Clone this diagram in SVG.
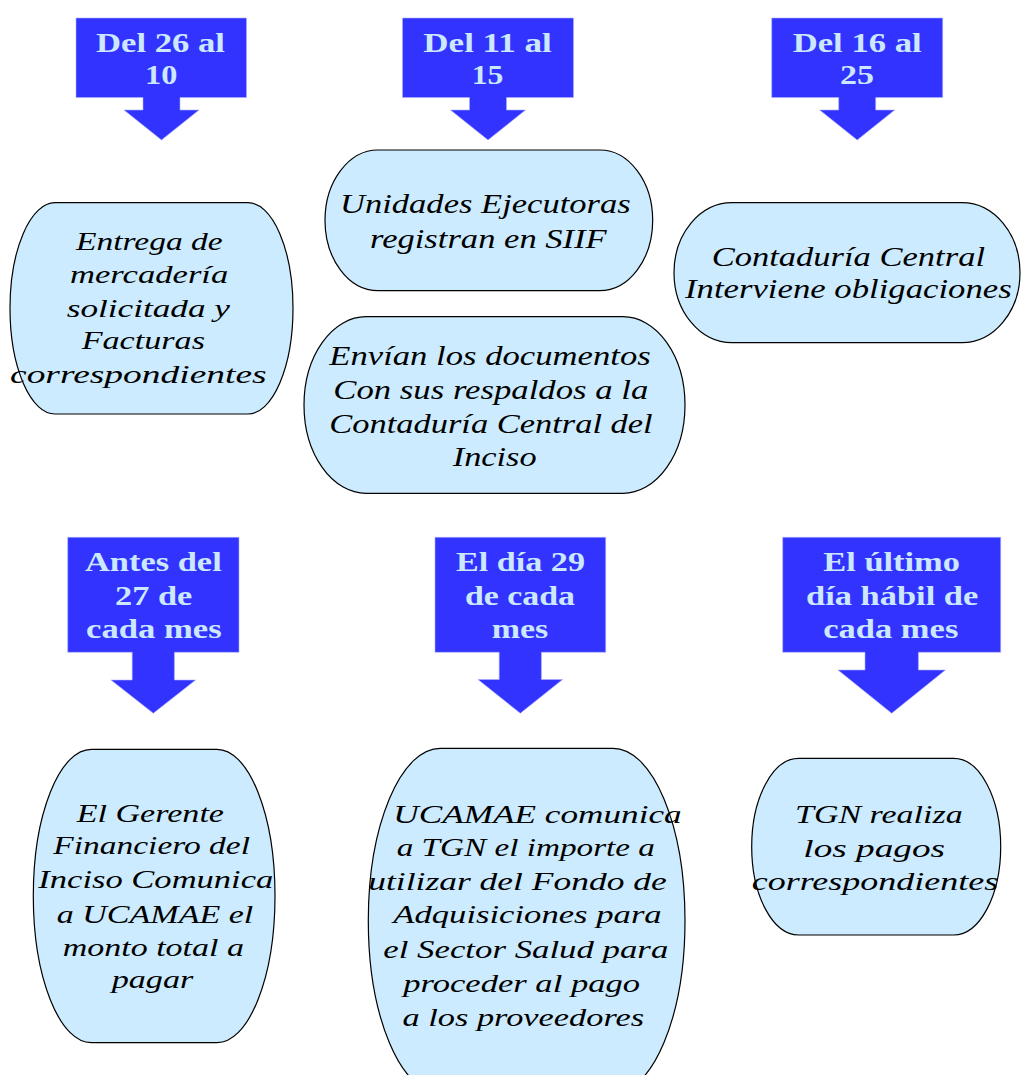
<svg xmlns="http://www.w3.org/2000/svg" width="1021" height="1075" viewBox="0 0 1021 1075">
<style>
.callout{fill:#3333ff;stroke:#aab0ff;stroke-width:0.6}
.ct{font-family:"Liberation Serif","Times New Roman",serif;font-weight:bold;font-size:27px;fill:#cce8ff}
.box{fill:#ccebff;stroke:#000;stroke-width:1.2}
.bt{font-family:"Liberation Serif","Times New Roman",serif;font-style:italic;font-size:26px;fill:#000}
.bt2{font-size:27.5px}
</style>
<rect width="1021" height="1075" fill="#fff"/>
<g id="connectors"/>
<g id="c1">
<path class="callout" d="M76,18 H246.5 V97.5 H180 V110 H199 L161.5,140 L124,110 H143 V97.5 H76 Z"/>
<text class="ct" x="96" y="51.7" textLength="129" lengthAdjust="spacingAndGlyphs">Del 26 al</text>
<text class="ct" x="145" y="84" textLength="32.3" lengthAdjust="spacingAndGlyphs">10</text>
</g>
<g id="c2">
<path class="callout" d="M402.5,18 H573.5 V97.5 H506.5 V110 H525.5 L488,140 L450.5,110 H469.5 V97.5 H402.5 Z"/>
<text class="ct" x="423.3" y="51.7" textLength="128.4" lengthAdjust="spacingAndGlyphs">Del 11 al</text>
<text class="ct" x="471.7" y="83.5" textLength="31.6" lengthAdjust="spacingAndGlyphs">15</text>
</g>
<g id="c3">
<path class="callout" d="M771.7,18 H942.7 V97.5 H875.7 V110 H894.7 L857.2,140 L819.7,110 H838.7 V97.5 H771.7 Z"/>
<text class="ct" x="792.7" y="51.7" textLength="129" lengthAdjust="spacingAndGlyphs">Del 16 al</text>
<text class="ct" x="840" y="84" textLength="34" lengthAdjust="spacingAndGlyphs">25</text>
</g>
<g id="c4">
<path class="callout" d="M67.7,537.3 H239 V652.3 H174.4 V680 H195.6 L153.3,713.3 L111,680 H132.2 V652.3 H67.7 Z"/>
<text class="ct" x="85" y="570.7" textLength="136.7" lengthAdjust="spacingAndGlyphs">Antes del</text>
<text class="ct" x="115" y="605" textLength="77.3" lengthAdjust="spacingAndGlyphs">27 de</text>
<text class="ct" x="86" y="638.3" textLength="135.7" lengthAdjust="spacingAndGlyphs">cada mes</text>
</g>
<g id="c5">
<path class="callout" d="M435,537.3 H605.7 V652.3 H541.4 V679.5 H562.6 L520.3,713.3 L478,679.5 H499.2 V652.3 H435 Z"/>
<text class="ct" x="456" y="570.7" textLength="129" lengthAdjust="spacingAndGlyphs">El día 29</text>
<text class="ct" x="465" y="605" textLength="110" lengthAdjust="spacingAndGlyphs">de cada</text>
<text class="ct" x="491.7" y="638.3" textLength="56.6" lengthAdjust="spacingAndGlyphs">mes</text>
</g>
<g id="c6">
<path class="callout" d="M782.7,537.3 H1000.7 V652.3 H918.4 V670 H945.4 L891.7,713.3 L838,670 H865 V652.3 H782.7 Z"/>
<text class="ct" x="823.3" y="570.7" textLength="136.7" lengthAdjust="spacingAndGlyphs">El último</text>
<text class="ct" x="806" y="605" textLength="172.3" lengthAdjust="spacingAndGlyphs">día hábil de</text>
<text class="ct" x="823.3" y="638.3" textLength="135" lengthAdjust="spacingAndGlyphs">cada mes</text>
</g>
<g id="s1">
<rect class="box" x="10" y="202.7" width="283" height="211.3" rx="45" ry="105.7"/>
<text class="bt" x="76" y="250" textLength="146.7" lengthAdjust="spacingAndGlyphs">Entrega de</text>
<text class="bt" x="70" y="283.3" textLength="158.3" lengthAdjust="spacingAndGlyphs">mercadería</text>
<text class="bt" x="66.7" y="316.7" textLength="163.3" lengthAdjust="spacingAndGlyphs">solicitada y</text>
<text class="bt" x="81.7" y="349.3" textLength="123.3" lengthAdjust="spacingAndGlyphs">Facturas</text>
<text class="bt" x="10" y="383.3" textLength="256.7" lengthAdjust="spacingAndGlyphs">correspondientes</text>
</g>
<g id="s2">
<rect class="box" x="325" y="150" width="327.7" height="140.7" rx="53" ry="70.4"/>
<text class="bt bt2" x="340" y="213.3" textLength="290.7" lengthAdjust="spacingAndGlyphs">Unidades Ejecutoras</text>
<text class="bt bt2" x="370" y="248.3" textLength="236.7" lengthAdjust="spacingAndGlyphs">registran en SIIF</text>
</g>
<g id="s3">
<rect class="box" x="304" y="316.7" width="381" height="176.6" rx="62" ry="88.3"/>
<text class="bt bt2" x="329.3" y="365" textLength="321.4" lengthAdjust="spacingAndGlyphs">Envían los documentos</text>
<text class="bt bt2" x="333.3" y="399.3" textLength="315" lengthAdjust="spacingAndGlyphs">Con sus respaldos a la</text>
<text class="bt bt2" x="329.3" y="432.7" textLength="323.4" lengthAdjust="spacingAndGlyphs">Contaduría Central del</text>
<text class="bt bt2" x="452.7" y="466" textLength="84" lengthAdjust="spacingAndGlyphs">Inciso</text>
</g>
<g id="s4">
<rect class="box" x="674" y="202.7" width="346" height="140" rx="58" ry="70"/>
<text class="bt bt2" x="711.7" y="266" textLength="273.3" lengthAdjust="spacingAndGlyphs">Contaduría Central</text>
<text class="bt bt2" x="685" y="298.3" textLength="326.7" lengthAdjust="spacingAndGlyphs">Interviene obligaciones</text>
</g>
<g id="s5">
<rect class="box" x="33.3" y="749.3" width="241.7" height="293.4" rx="58" ry="146.7"/>
<text class="bt" x="76.7" y="821.7" textLength="147.3" lengthAdjust="spacingAndGlyphs">El Gerente</text>
<text class="bt" x="53.3" y="854.3" textLength="196.7" lengthAdjust="spacingAndGlyphs">Financiero del</text>
<text class="bt" x="38.3" y="888.3" textLength="235" lengthAdjust="spacingAndGlyphs">Inciso Comunica</text>
<text class="bt" x="56.7" y="922.7" textLength="196.6" lengthAdjust="spacingAndGlyphs">a UCAMAE el</text>
<text class="bt" x="62.7" y="956" textLength="181.3" lengthAdjust="spacingAndGlyphs">monto total a</text>
<text class="bt" x="111.7" y="988.3" textLength="81.6" lengthAdjust="spacingAndGlyphs">pagar</text>
</g>
<g id="s6">
<rect class="box" x="368.3" y="748.3" width="316.7" height="345" rx="72" ry="172.5"/>
<text class="bt" x="393.3" y="822.7" textLength="288.4" lengthAdjust="spacingAndGlyphs">UCAMAE comunica</text>
<text class="bt" x="396.7" y="855.7" textLength="258.3" lengthAdjust="spacingAndGlyphs">a TGN el importe a</text>
<text class="bt" x="368.3" y="890" textLength="298.4" lengthAdjust="spacingAndGlyphs">utilizar del Fondo de</text>
<text class="bt" x="393.3" y="923.3" textLength="268.4" lengthAdjust="spacingAndGlyphs">Adquisiciones para</text>
<text class="bt" x="383.3" y="958" textLength="285" lengthAdjust="spacingAndGlyphs">el Sector Salud para</text>
<text class="bt" x="403.3" y="992" textLength="236.7" lengthAdjust="spacingAndGlyphs">proceder al pago</text>
<text class="bt" x="402.5" y="1025.5" textLength="241.6" lengthAdjust="spacingAndGlyphs">a los proveedores</text>
</g>
<g id="s7">
<rect class="box" x="751.7" y="758.3" width="249" height="176.7" rx="47" ry="88.3"/>
<text class="bt" x="795" y="823.3" textLength="167.7" lengthAdjust="spacingAndGlyphs">TGN realiza</text>
<text class="bt" x="803.3" y="856.7" textLength="141.7" lengthAdjust="spacingAndGlyphs">los pagos</text>
<text class="bt" x="751.7" y="890" textLength="246.6" lengthAdjust="spacingAndGlyphs">correspondientes</text>
</g>
</svg>
